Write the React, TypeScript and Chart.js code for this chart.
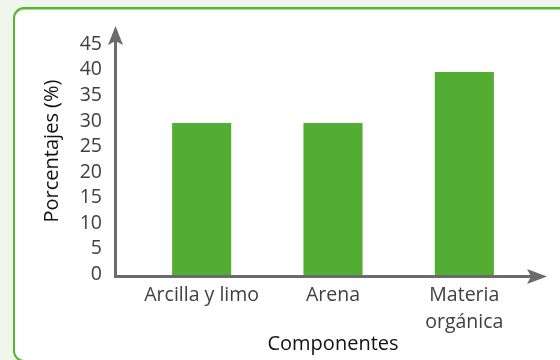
import React, { useEffect, useRef } from "react";
import { Chart, registerables } from "chart.js";

Chart.register(...registerables);

// ---- data ----
const categories: (string | string[])[] = ["Arcilla y limo", "Arena", ["Materia", "orgánica"]];
const percentages = [30, 30, 40];
const yTickValues = [0, 5, 10, 15, 20, 25, 30, 35, 40, 45];
const yAxisMax = 49;
const xTitle = "Componentes";
const yTitle = "Porcentajes (%)";

const AXIS_COLOR = "#6b6b6b";
const BAR_COLOR = "#53ad33";
const FONT = "'Open Sans', 'DejaVu Sans', sans-serif";

const axisArrows = {
  id: "axisArrows",
  afterDatasetsDraw(chart: any) {
    const { ctx, chartArea, scales } = chart;
    const y0 = scales.y.getPixelForValue(0) + 0.5;
    const yTop = scales.y.getPixelForValue(yAxisMax);
    const ax = chartArea.left - 20.5;
    const xEnd = chartArea.right + 17;
    ctx.save();
    ctx.strokeStyle = AXIS_COLOR;
    ctx.fillStyle = AXIS_COLOR;
    ctx.lineWidth = 3;
    ctx.lineJoin = "miter";
    ctx.beginPath();
    ctx.moveTo(ax, yTop + 12);
    ctx.lineTo(ax, y0);
    ctx.lineTo(xEnd - 12, y0);
    ctx.stroke();
    // y arrow head
    ctx.beginPath();
    ctx.moveTo(ax, yTop);
    ctx.lineTo(ax + 7.5, yTop + 19);
    ctx.lineTo(ax, yTop + 15);
    ctx.lineTo(ax - 7.5, yTop + 19);
    ctx.closePath();
    ctx.fill();
    // x arrow head
    ctx.beginPath();
    ctx.moveTo(xEnd, y0);
    ctx.lineTo(xEnd - 20, y0 - 7.5);
    ctx.lineTo(xEnd - 16, y0);
    ctx.lineTo(xEnd - 20, y0 + 7.5);
    ctx.closePath();
    ctx.fill();
    ctx.restore();
  },
};

export default function App() {
  const ref = useRef<HTMLCanvasElement | null>(null);

  useEffect(() => {
    if (!ref.current) return;
    const chart = new Chart(ref.current, {
      type: "bar",
      data: {
        labels: categories,
        datasets: [
          {
            data: percentages,
            backgroundColor: BAR_COLOR,
            borderWidth: 0,
            barPercentage: 1,
            categoryPercentage: 0.45,
          },
        ],
      },
      options: {
        animation: false,
        responsive: false,
        maintainAspectRatio: false,
        layout: { padding: { top: 26, right: 30, bottom: 0, left: 0 } },
        plugins: { legend: { display: false }, tooltip: { enabled: false } },
        scales: {
          x: {
            grid: { display: false, drawTicks: false },
            border: { display: false },
            ticks: {
              color: "#404040",
              padding: 6,
              maxRotation: 0,
              autoSkip: false,
              font: { family: FONT, size: 19.5, weight: 400, lineHeight: 1.38 },
            },
            title: {
              display: true,
              text: xTitle,
              color: "#111111",
              padding: { top: 0, bottom: 4 },
              font: { family: FONT, size: 20, weight: 400, lineHeight: 1.2 },
            },
            afterFit(scale: any) {
              scale.height = 84;
              scale.paddingLeft = 0;
              scale.paddingRight = 0;
            },
          },
          y: {
            min: 0,
            max: yAxisMax,
            grid: { display: false, drawTicks: false },
            border: { display: false },
            ticks: {
              autoSkip: false,
              color: "#404040",
              padding: 34,
              labelOffset: -2,
              font: { family: FONT, size: 19.5, weight: 400 },
            },
            afterBuildTicks(scale: any) {
              scale.ticks = yTickValues.map((v) => ({ value: v }));
            },
            title: {
              display: true,
              text: yTitle,
              color: "#111111",
              padding: { top: 40, bottom: 0 },
              font: { family: FONT, size: 20, weight: 400, lineHeight: 1.2 },
            },
            afterFit(scale: any) {
              scale.width = 136;
              scale.paddingTop = 0;
              scale.paddingBottom = 0;
            },
          },
        },
      },
      plugins: [axisArrows],
    });
    return () => chart.destroy();
  }, []);

  return (
    <div
      style={{
        position: "fixed",
        left: 0,
        top: 0,
        width: 560,
        height: 360,
        background: "#f1f6ec",
        overflow: "hidden",
      }}
    >
      <div
        style={{
          position: "absolute",
          left: 13,
          top: 7,
          width: 620,
          height: 355,
          boxSizing: "border-box",
          border: "2px solid #5ab434",
          borderRadius: 11,
          background: "#ffffff",
          boxShadow: "inset 0 1px 0 0 #a3dc8d",
        }}
      />
      <canvas
        ref={ref}
        width={560}
        height={360}
        style={{ position: "absolute", left: 0, top: 0, width: 560, height: 360 }}
      />
    </div>
  );
}
